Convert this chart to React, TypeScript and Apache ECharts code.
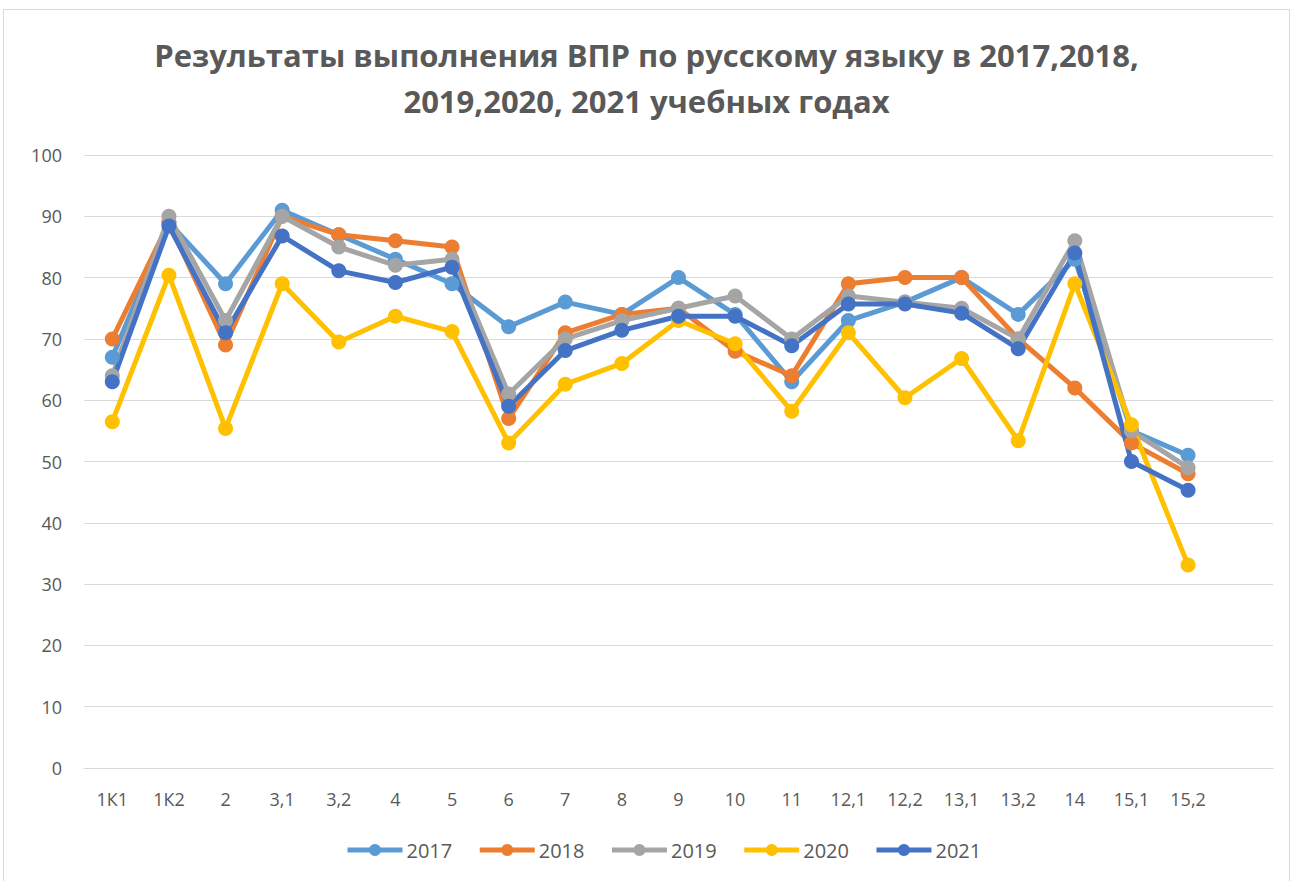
import React, { useEffect, useRef } from "react";
import * as echarts from "echarts";

const categories = ["1К1", "1К2", "2", "3,1", "3,2", "4", "5", "6", "7", "8", "9", "10", "11", "12,1", "12,2", "13,1", "13,2", "14", "15,1", "15,2", ""];
const s2017 = [67, 89, 79, 91, 87, 83, 79, 72, 76, 74, 80, 74, 63, 73, 76, 80, 74, 83, 55, 51, null];
const s2018 = [70, 89, 69, 90, 87, 86, 85, 57, 71, 74, 75, 68, 64, 79, 80, 80, 70, 62, 53, 48, null];
const s2019 = [64, 90, 73, 90, 85, 82, 83, 61, 70, 73, 75, 77, 70, 77, 76, 75, 70, 86, 55, 49, null];
const s2020 = [56.5, 80.4, 55.4, 79, 69.5, 73.7, 71.2, 53, 62.6, 66, 73, 69.2, 58.2, 71, 60.4, 66.8, 53.4, 79, 56, 33.1, null];
const s2021 = [63, 88.4, 71, 86.8, 81.1, 79.2, 81.7, 59, 68.1, 71.4, 73.7, 73.7, 68.9, 75.7, 75.7, 74.2, 68.4, 84, 50, 45.3, null];
const seriesNames = ["2017", "2018", "2019", "2020", "2021"];
const seriesColors = ["#5B9BD5", "#ED7D31", "#A5A5A5", "#FFC000", "#4472C4"];
const titleText = "Результаты выполнения ВПР по русскому языку в 2017,2018,\n2019,2020, 2021 учебных годах";

export default function App() {
  const ref = useRef<HTMLDivElement>(null);
  useEffect(() => {
    if (!ref.current) return;
    const chart = echarts.init(ref.current, undefined, { renderer: "svg" });
    const data = [s2017, s2018, s2019, s2020, s2021];
    chart.setOption({
      animation: false,
      backgroundColor: "#ffffff",
      graphic: [
        {
          type: "rect",
          shape: { x: 3.5, y: 9.5, width: 1286, height: 880 },
          style: { fill: "none", stroke: "#D9D9D9", lineWidth: 1 },
          silent: true,
        },
      ],
      title: {
        text: titleText,
        left: "center",
        top: 27,
        textStyle: {
          fontFamily: "Open Sans",
          fontWeight: "bold",
          fontSize: 31,
          color: "#595959",
          lineHeight: 46,
        },
      },
      legend: {
        bottom: 16,
        left: 340,
        itemWidth: 55,
        itemHeight: 15,
        itemGap: 25,
        lineStyle: { width: 5 },
        textStyle: { fontFamily: "Open Sans", fontSize: 20, color: "#595959", padding: [0, 0, 0, -1] },
        data: seriesNames,
      },
      grid: { left: 84, right: 20, top: 155, bottom: 113, containLabel: false },
      xAxis: {
        type: "category",
        data: categories,
        boundaryGap: true,
        axisLine: { show: true, lineStyle: { color: "#D9D9D9", width: 1 } },
        axisTick: { show: false },
        axisLabel: { fontFamily: "Open Sans", fontSize: 18, color: "#595959", margin: 22 },
      },
      yAxis: {
        type: "value",
        min: 0,
        max: 100,
        interval: 10,
        axisLine: { show: false },
        axisTick: { show: false },
        splitLine: { lineStyle: { color: "#D9D9D9", width: 1 } },
        axisLabel: { fontFamily: "Open Sans", fontSize: 18, color: "#595959", margin: 22 },
      },
      series: seriesNames.map((name, i) => ({
        name,
        type: "line",
        data: data[i],
        symbol: "circle",
        symbolSize: 15,
        showSymbol: true,
        color: seriesColors[i],
        lineStyle: { width: 5, color: seriesColors[i] },
        itemStyle: { color: seriesColors[i] },
      })),
    });
    return () => chart.dispose();
  }, []);
  return (
    <div style={{ position: "fixed", left: 0, top: 0, width: 1293, height: 881 }}>
      <div ref={ref} style={{ width: 1293, height: 881 }} />
    </div>
  );
}
